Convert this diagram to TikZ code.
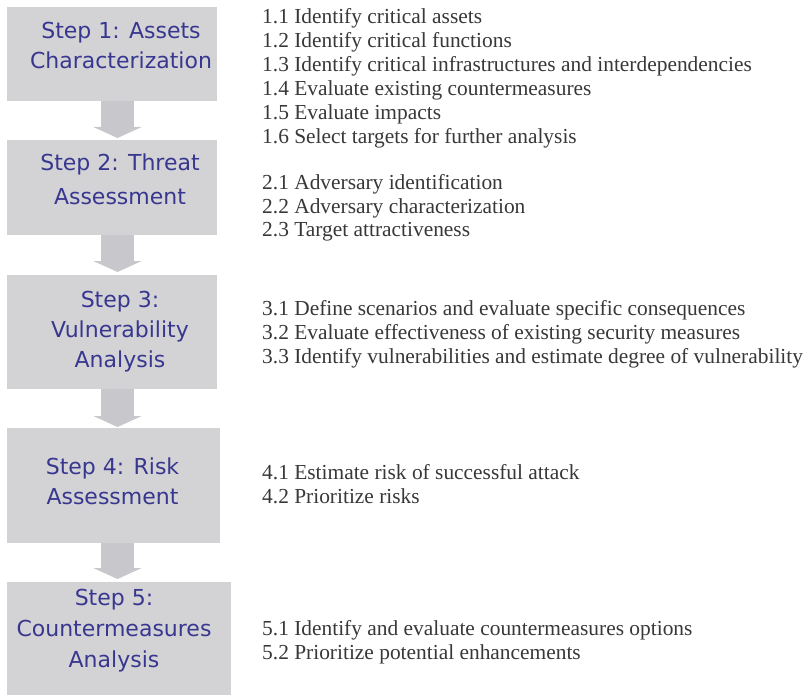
\documentclass[tikz,border=0pt]{standalone}
\usepackage{fontspec}
\setmainfont{Liberation Serif}
\newfontfamily\stepfont{DejaVu Sans}
\usetikzlibrary{arrows.meta}
\definecolor{boxgray}{HTML}{D3D3D6}
\definecolor{arrowgray}{HTML}{C8C8CC}
\definecolor{stepblue}{HTML}{38378F}
\definecolor{itemgray}{HTML}{383838}
\begin{document}
\begin{tikzpicture}[x=1pt,y=-1pt,
  box/.style={fill=boxgray, draw=none, inner sep=0pt, anchor=north west},
  steptext/.style={text=stepblue, font=\stepfont\fontsize{22}{30}\selectfont, align=center, anchor=north, inner sep=0pt},
  items/.style={text=itemgray, font=\fontsize{21.4}{24}\selectfont, align=left, anchor=north west, inner sep=0pt},
  blk/.style={draw=arrowgray, line width=33pt, -{Triangle[width=48pt,length=11pt]}}
]
\useasboundingbox (0,0) rectangle (805,695);
\fill[white] (0,0) rectangle (805,695);
% boxes
\node[box, minimum width=210pt, minimum height=94pt] (b1) at (7,7) {};
\node[box, minimum width=210pt, minimum height=95pt] (b2) at (7,140) {};
\node[box, minimum width=210pt, minimum height=114pt] (b3) at (7,275) {};
\node[box, minimum width=213pt, minimum height=115pt] (b4) at (7,428) {};
\node[box, minimum width=224pt, minimum height=113pt] (b5) at (7,582) {};
% arrows
\coordinate (ax) at (117.5,0);
\draw[blk, shorten >=2pt] (b1.south -| ax) -- (b2.north -| ax);
\draw[blk, shorten >=3pt] (b2.south -| ax) -- (b3.north -| ax);
\draw[blk, shorten >=1pt] (b3.south -| ax) -- (b4.north -| ax);
\draw[blk, shorten >=3pt] (b4.south -| ax) -- (b5.north -| ax);
% step texts
\node[steptext] (t1) at (121,22) {Step 1: Assets\\Characterization};
\node[steptext, font=\stepfont\fontsize{22}{34}\selectfont] (t2) at (120,153.5) {Step 2: Threat\\Assessment};
\node[steptext] (t3) at (120,290.5) {Step 3:\\Vulnerability\\Analysis};
\node[steptext] (t4) at (112.5,457.5) {Step 4: Risk\\Assessment};
\node[steptext, font=\stepfont\fontsize{22}{31}\selectfont] (t5) at (114,588.5) {Step 5:\\Countermeasures\\Analysis};
% item lists
\node[items] (g1) at (262,8.6) {1.1 Identify critical assets\\1.2 Identify critical functions\\1.3 Identify critical infrastructures and interdependencies\\1.4 Evaluate existing countermeasures\\1.5 Evaluate impacts\\1.6 Select targets for further analysis};
\node[items, font=\fontsize{21.4}{23.5}\selectfont] (g2) at (262,174.6) {2.1 Adversary identification\\2.2 Adversary characterization\\2.3 Target attractiveness};
\node[items] (g3) at (262,300.1) {3.1 Define scenarios and evaluate specific consequences\\3.2 Evaluate effectiveness of existing security measures\\3.3 Identify vulnerabilities and estimate degree of vulnerability};
\node[items] (g4) at (262,464.1) {4.1 Estimate risk of successful attack\\4.2 Prioritize risks};
\node[items] (g5) at (262,620.3) {5.1 Identify and evaluate countermeasures options\\5.2 Prioritize potential enhancements};
\end{tikzpicture}
\end{document}
